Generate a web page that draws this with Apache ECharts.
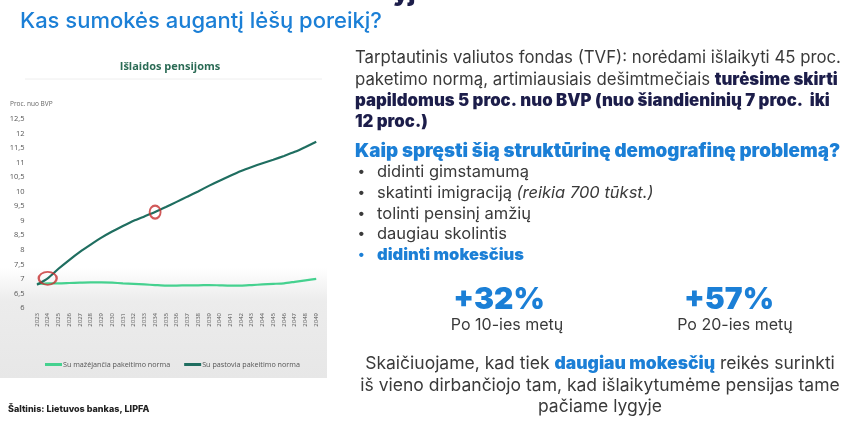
<!DOCTYPE html>
<html><head><meta charset="utf-8">
<script src="https://cdn.jsdelivr.net/npm/echarts@6/dist/echarts.min.js"></script>
<style>html,body{margin:0;padding:0;background:#fff}#c{width:865px;height:424px}</style>
</head><body><div id="c"></div>
<script>
const years = ['2023','2024','2025','2026','2027','2028','2029','2030','2031','2032','2033','2034','2035','2036','2037','2038','2039','2040','2041','2042','2043','2044','2045','2046','2047','2048','2049'];
const decreasingRate = [6.83,6.85,6.85,6.86,6.87,6.88,6.88,6.87,6.85,6.83,6.81,6.79,6.77,6.77,6.78,6.78,6.79,6.78,6.77,6.77,6.79,6.81,6.83,6.85,6.9,6.95,7.0];
const constantRate = [6.8,7.02,7.35,7.65,7.93,8.18,8.42,8.63,8.82,9.0,9.15,9.3,9.47,9.65,9.83,10.01,10.2,10.38,10.55,10.71,10.85,10.98,11.1,11.23,11.37,11.54,11.72];
const highlighted = [1, 11];
const seriesNames = ['Su mažėjančia pakeitimo norma','Su pastovia pakeitimo norma'];

const blue = '#1b7fd6', navy = '#1c1d4a', gray = '#3a3a3a';
const F = 'Inter, "Noto Sans", sans-serif';
const chart = echarts.init(document.getElementById('c'));

function txt(x, y, text, style, extra) {
  return Object.assign({type:'text', x:x, y:y, silent:true, z:10,
    style: Object.assign({text:text, font:'400 15px ' + F, fill:gray, textVerticalAlign:'middle'}, style)}, extra||{});
}
function mkRich(fs) {
  return {
    r:{fontFamily:F, fontSize:fs, fontWeight:400, fill:gray},
    b:{fontFamily:F, fontSize:fs, fontWeight:900, fill:navy},
    bl:{fontFamily:F, fontSize:fs, fontWeight:900, fill:blue},
    i:{fontFamily:F, fontSize:fs, fontWeight:400, fontStyle:'italic', fill:gray}
  };
}
function rtxt(x, y, text, fs, align) {
  return {type:'text', x:x, y:y, silent:true, z:10,
    style:{text:text, rich:mkRich(fs), textVerticalAlign:'middle', align:align||'left', font:'400 '+fs+'px ' + F, fill:gray}};
}

const graphics = [
  {type:'rect', silent:true, z:0, shape:{x:0, y:268, width:327, height:110},
   style:{fill:new echarts.graphic.LinearGradient(0,0,0,1,[{offset:0,color:'rgba(236,236,236,0)'},{offset:0.3,color:'#ececec'},{offset:1,color:'#e7e7e7'}])}},
  {type:'line', silent:true, z:1, shape:{x1:25, y1:79, x2:322, y2:79}, style:{stroke:'#eeeeee', lineWidth:1}},
  txt(393, -6, 'yj', {font:'900 24px ' + F, fill:navy}),
  txt(20, 21, 'Kas sumokės augantį lėšų poreikį?', {font:'500 22px ' + F, fill:blue}),
  txt(170, 67, 'Išlaidos pensijoms', {font:'700 11px "Open Sans", sans-serif', fill:'#2b6b55', align:'center'}),
  txt(10, 104, 'Proc. nuo BVP', {font:'400 6.5px "Open Sans", sans-serif', fill:'#666'}),
  txt(8, 409, 'Šaltinis: Lietuvos bankas, LIPFA', {font:'800 9px ' + F, fill:'#222'}),
  rtxt(355, 58, '{r|Tarptautinis valiutos fondas (TVF): norėdami išlaikyti 45 proc.}', 16.8),
  rtxt(355, 80, '{r|paketimo normą, artimiausiais dešimtmečiais }{b|turėsime skirti}', 16.8),
  rtxt(355, 101, '{b|papildomus 5 proc. nuo BVP (nuo šiandieninių 7 proc.  iki}', 16.8),
  rtxt(355, 122, '{b|12 proc.)}', 16.8),
  txt(355, 151, 'Kaip spręsti šią struktūrinę demografinę problemą?', {font:'900 18.8px ' + F, fill:blue}),
];
const bullets = [['didinti gimstamumą','r'],['skatinti imigraciją ','r','(reikia 700 tūkst.)'],['tolinti pensinį amžių','r'],['daugiau skolintis','r'],['didinti mokesčius','bl']];
const by = [172,193,214,234,255];
bullets.forEach((b,i)=>{
  graphics.push(txt(358, by[i], '•', {font:'700 14px ' + F, fill: b[1]==='bl'?blue:gray}));
  graphics.push(rtxt(377, by[i], '{'+b[1]+'|'+b[0]+'}' + (b[2]?'{i|'+b[2]+'}':''), 16.5));
});
graphics.push(
  txt(499, 300, '+32%', {font:'900 30px ' + F, fill:blue, align:'center'}),
  txt(507, 325, 'Po 10-ies metų', {font:'400 16px ' + F, fill:gray, align:'center'}),
  txt(729, 300, '+57%', {font:'900 30px ' + F, fill:blue, align:'center'}),
  txt(735, 325, 'Po 20-ies metų', {font:'400 16px ' + F, fill:gray, align:'center'}),
  rtxt(600, 364, '{r|Skaičiuojame, kad tiek }{bl|daugiau mokesčių}{r| reikės surinkti}', 17.5, 'center'),
  rtxt(600, 386, '{r|iš vieno dirbančiojo tam, kad išlaikytumėme pensijas tame}', 17.5, 'center'),
  rtxt(600, 407, '{r|pačiame lygyje}', 17.5, 'center')
);

chart.setOption({
  animation:false,
  backgroundColor:'#ffffff',
  graphic: graphics,
  grid:{left:31.6, top:119, width:290, height:189, containLabel:false},
  legend:{left:40, top:356, itemWidth:17, itemHeight:3, itemGap:14, icon:'rect',
    data:seriesNames,
    textStyle:{fontSize:7.2, color:'#555', fontFamily:'"Open Sans", sans-serif', padding:[0,0,0,-4]}},
  xAxis:{type:'category', data:years, boundaryGap:true,
    axisLine:{show:false}, axisTick:{show:false}, splitLine:{show:false},
    axisLabel:{rotate:90, fontSize:6, color:'#555', margin:5, interval:0, fontFamily:'"Open Sans", sans-serif'}},
  yAxis:{type:'value', min:6, max:12.5, interval:0.5,
    axisLine:{show:false}, axisTick:{show:false}, splitLine:{show:false},
    axisLabel:{fontSize:7.5, color:'#555', margin:7, fontFamily:'"Open Sans", sans-serif',
      formatter:v=>String(v).replace('.',',')}},
  series:[
    {name:seriesNames[0], type:'line', data:decreasingRate, showSymbol:false, smooth:0.2,
     lineStyle:{color:'#45d18f', width:2.2}, itemStyle:{color:'#45d18f'}, z:2},
    {name:seriesNames[1], type:'line', data:constantRate, showSymbol:false, smooth:0.2,
     lineStyle:{color:'#1f6e60', width:2.2}, itemStyle:{color:'#1f6e60'}, z:3},
    {type:'scatter', data:highlighted.map(i=>[i, constantRate[i]]), z:5,
     symbol:'circle', symbolSize:(v,p)=>p.dataIndex===0?[18,13]:[11,13],
     itemStyle:{color:'rgba(0,0,0,0)', borderColor:'#c62f2f', borderWidth:2}}
  ]
});
</script></body></html>
